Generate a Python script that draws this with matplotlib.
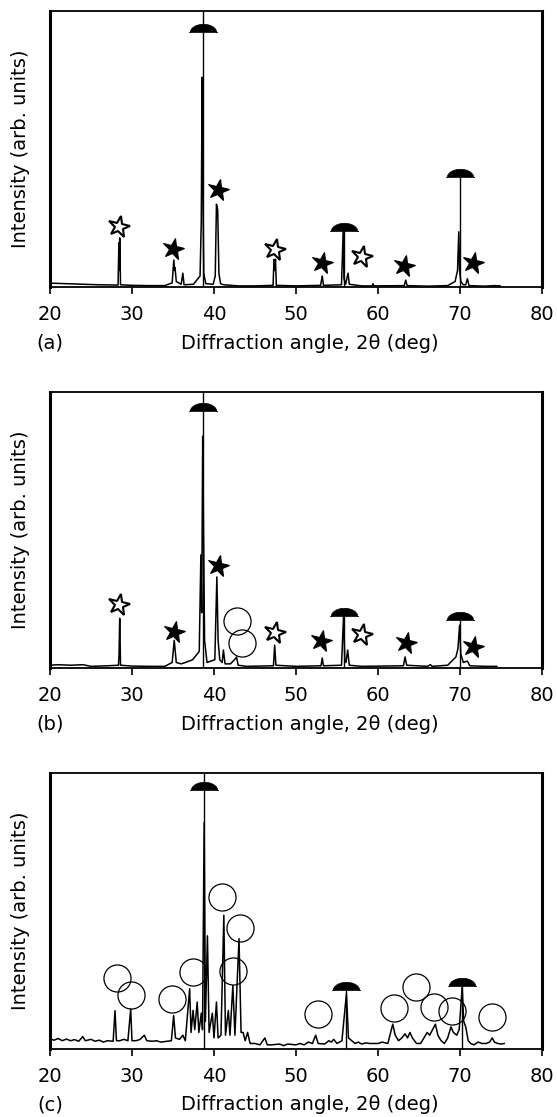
import numpy as np
import matplotlib
matplotlib.use("Agg")
import matplotlib.pyplot as plt
from matplotlib.path import Path
from matplotlib.markers import MarkerStyle
from matplotlib.transforms import Affine2D

plt.rcParams['font.family'] = ['DejaVu Sans']

W, H = 557, 1117

# ---------------- data: panel (a) ----------------
a_x = [20, 22, 24, 26, 28.3, 28.4, 28.45, 28.5, 28.6, 30, 32, 34, 34.9, 35.1, 35.2, 35.25, 35.4,
       36.0, 36.2, 36.35, 37.5, 38.3, 38.45, 38.55, 38.62, 38.75, 39.0, 39.9, 40.15, 40.3, 40.45,
       40.6, 40.8, 41.2, 43, 45, 47.2, 47.32, 47.4, 47.5, 47.6, 50, 53.0, 53.2, 53.35, 55.55, 55.75,
       55.85, 56.05, 56.35, 56.5, 58, 59.3, 59.4, 59.5, 63.2, 63.38, 63.55, 66, 68.5, 69.4, 69.7,
       69.85, 69.95, 70.1, 70.4, 70.7, 70.9, 71.1, 73, 74.2, 74.9]
a_y = [0.014, 0.012, 0.010, 0.008, 0.007, 0.16, 0.06, 0.178, 0.008, 0.006, 0.005, 0.005, 0.015,
       0.098, 0.06, 0.07, 0.02, 0.01, 0.05, 0.008, 0.01, 0.04, 0.24, 0.76, 0.45, 0.05, 0.012, 0.01,
       0.04, 0.30, 0.28, 0.05, 0.012, 0.008, 0.004, 0.004, 0.006, 0.10, 0.06, 0.10, 0.006, 0.004,
       0.006, 0.04, 0.006, 0.008, 0.204, 0.03, 0.01, 0.05, 0.01, 0.004, 0.004, 0.012, 0.004, 0.005,
       0.025, 0.005, 0.003, 0.005, 0.02, 0.06, 0.20, 0.06, 0.02, 0.008, 0.008, 0.03, 0.005, 0.003,
       0.005, 0.004]
a_fstar_x = [34.95, 40.45, 53.2, 63.2, 71.55]
a_fstar_y = [0.137, 0.351, 0.086, 0.076, 0.086]
a_ostar_x = [28.45, 47.5, 58.0]
a_ostar_y = [0.217, 0.134, 0.110]
a_dome_x = [38.6, 55.8, 70.05]
a_dome_y = [0.924, 0.204, 0.400]
a_stem_top = [1.0, 0.204, 0.400]
a_circ_x, a_circ_y = [], []

# ---------------- data: panel (b) ----------------
b_x = [20, 21, 22.5, 24, 25, 27, 28.35, 28.42, 28.5, 28.6, 30, 32, 34, 34.9, 35.15, 35.4, 36,
       36.5, 37.4, 38.2, 38.4, 38.5, 38.62, 38.72, 38.85, 39.15, 40.1, 40.35, 40.5, 40.7, 41.0,
       41.15, 41.35, 42.0, 42.5, 42.75, 42.95, 44, 47.25, 47.4, 47.55, 50, 53.05, 53.2, 53.35,
       55.55, 55.8, 55.95, 56.1, 56.3, 56.5, 58, 63.1, 63.3, 63.5, 66, 66.4, 66.6, 68.5, 69.5, 69.75,
       69.95, 70.1, 70.4, 70.9, 71.2, 73, 74.5]
b_y = [0.010, 0.012, 0.010, 0.012, 0.006, 0.008, 0.010, 0.05, 0.18, 0.010, 0.007, 0.006, 0.006,
       0.02, 0.10, 0.02, 0.015, 0.02, 0.03, 0.06, 0.41, 0.20, 0.84, 0.50, 0.10, 0.02, 0.03, 0.33,
       0.10, 0.03, 0.02, 0.065, 0.015, 0.015, 0.03, 0.04, 0.01, 0.006, 0.008, 0.083, 0.010, 0.006,
       0.008, 0.036, 0.008, 0.010, 0.19, 0.03, 0.02, 0.065, 0.010, 0.006, 0.008, 0.04, 0.010, 0.006,
       0.012, 0.006, 0.010, 0.04, 0.07, 0.155, 0.05, 0.02, 0.025, 0.008, 0.006, 0.006]
b_fstar_x = [35.16, 40.5, 53.06, 63.46, 71.56]
b_fstar_y = [0.130, 0.370, 0.098, 0.092, 0.077]
b_ostar_x = [28.45, 47.5, 58.1]
b_ostar_y = [0.230, 0.126, 0.120]
b_dome_x = [38.6, 55.85, 70.0]
b_dome_y = [0.930, 0.190, 0.174]
b_stem_top = [1.0, 0.190, 0.174]
b_circ_x = [42.75, 43.4]
b_circ_y = [0.170, 0.092]

# ---------------- data: panel (c) ----------------
c_x = [20, 20.5, 21, 21.5, 22, 22.5, 23, 23.5, 24, 24.3, 25, 25.5, 26, 26.5, 27, 27.7, 27.93,
       28.1, 28.5, 29, 29.5, 29.84, 30.0, 30.5, 31.0, 31.5, 31.8, 32.5, 33, 33.5, 34, 34.8, 35.08,
       35.3, 35.8, 36.2, 36.5, 37.03, 37.2, 37.45, 37.65, 37.95, 38.15, 38.45, 38.6, 38.8, 38.95,
       39.2, 39.4, 39.8, 40.0, 40.3, 40.5, 40.85, 41.2, 41.4, 41.75, 41.95, 42.3, 42.55, 43.05,
       43.3, 43.55, 43.8, 44.1, 44.4, 45, 45.6, 46.2, 46.5, 47, 48, 48.5, 49, 50, 50.5, 51, 51.5,
       52, 52.4, 52.7, 53.5, 54.0, 54.3, 54.6, 55.0, 55.6, 56.15, 56.4, 56.8, 57.2, 57.6, 58, 58.5,
       59, 60, 60.5, 61.2, 61.8, 62.1, 62.5, 62.9, 63.3, 63.6, 63.9, 64.2, 64.7, 65.2, 65.6, 66.0,
       66.3, 67.0, 67.3, 67.7, 68.1, 68.5, 68.9, 69.2, 69.6, 69.9, 70.26, 70.45, 70.7, 71.0, 71.3,
       71.7, 72.2, 72.7, 73.2, 73.6, 73.94, 74.2, 74.6, 75.0, 75.4]
c_y = [0.036, 0.032, 0.038, 0.030, 0.036, 0.030, 0.034, 0.028, 0.045, 0.030, 0.035, 0.028, 0.032,
       0.025, 0.030, 0.028, 0.139, 0.030, 0.030, 0.035, 0.030, 0.145, 0.030, 0.030, 0.035, 0.050,
       0.030, 0.028, 0.030, 0.025, 0.027, 0.030, 0.121, 0.040, 0.035, 0.050, 0.030, 0.218, 0.060,
       0.140, 0.070, 0.170, 0.060, 0.130, 0.070, 0.820, 0.100, 0.410, 0.060, 0.130, 0.040, 0.170,
       0.040, 0.050, 0.485, 0.050, 0.140, 0.050, 0.230, 0.050, 0.400, 0.060, 0.060, 0.030, 0.060,
       0.020, 0.020, 0.015, 0.040, 0.015, 0.015, 0.018, 0.012, 0.018, 0.015, 0.020, 0.015, 0.025,
       0.020, 0.050, 0.020, 0.018, 0.030, 0.025, 0.035, 0.020, 0.030, 0.200, 0.040, 0.030, 0.020,
       0.025, 0.018, 0.022, 0.020, 0.020, 0.025, 0.020, 0.090, 0.050, 0.030, 0.040, 0.055, 0.040,
       0.060, 0.040, 0.020, 0.020, 0.040, 0.060, 0.050, 0.090, 0.050, 0.030, 0.020, 0.040, 0.080,
       0.060, 0.050, 0.070, 0.224, 0.100, 0.080, 0.030, 0.020, 0.015, 0.025, 0.020, 0.020, 0.025,
       0.040, 0.025, 0.020, 0.018, 0.020]
c_fstar_x, c_fstar_y = [], []
c_ostar_x, c_ostar_y = [], []
c_dome_x = [38.8, 56.15, 70.3]
c_dome_y = [0.937, 0.215, 0.230]
c_stem_top = [1.0, 0.215, 0.230]
c_circ_x = [28.15, 29.84, 34.9, 37.46, 41.01, 42.31, 43.18, 52.7, 61.94, 64.63, 66.79, 69.05, 73.94]
c_circ_y = [0.258, 0.194, 0.182, 0.279, 0.551, 0.282, 0.440, 0.127, 0.149, 0.224, 0.151, 0.136, 0.115]

panel_letters = ['(a)', '(b)', '(c)']
xticks = [20, 30, 40, 50, 60, 70, 80]
xlabel = 'Diffraction angle, 2\u03b8 (deg)'
ylabel = 'Intensity (arb. units)'

panels = [
    (a_x, a_y, a_fstar_x, a_fstar_y, a_ostar_x, a_ostar_y, a_dome_x, a_dome_y, a_stem_top, a_circ_x, a_circ_y),
    (b_x, b_y, b_fstar_x, b_fstar_y, b_ostar_x, b_ostar_y, b_dome_x, b_dome_y, b_stem_top, b_circ_x, b_circ_y),
    (c_x, c_y, c_fstar_x, c_fstar_y, c_ostar_x, c_ostar_y, c_dome_x, c_dome_y, c_stem_top, c_circ_x, c_circ_y),
]

# ---------------- marker shapes ----------------
t = np.linspace(0, np.pi, 40)
dome_verts = np.column_stack([np.cos(t), 0.62 * np.sin(t)])
dome_verts = np.vstack([[1.05, 0.0], dome_verts, [-1.05, 0.0], [1.05, 0.0]])
dome_path = Path(dome_verts, closed=True)
dome_marker = MarkerStyle(dome_path)
star_marker = MarkerStyle('*', transform=Affine2D().rotate_deg(-12))

fig = plt.figure(figsize=(W / 100, H / 100), dpi=100)

axes_px = [(11, 287), (392, 668), (773, 1049)]
left_px, right_px = 50, 542

for i, (top, bot) in enumerate(axes_px):
    ax = fig.add_axes([left_px / W, 1 - bot / H, (right_px - left_px) / W, (bot - top) / H])
    (tx, ty, fsx, fsy, osx, osy, dx, dy, stop, cx, cy) = panels[i]
    ax.plot(tx, ty, color='black', lw=1.1, zorder=2)
    for xs, yt in zip(dx, stop):
        ax.plot([xs, xs], [0, yt], color='black', lw=1.0, zorder=2)
    ax.plot(dx, dy, linestyle='none', marker=dome_marker, ms=20,
            mfc='black', mec='black', mew=0.5, zorder=4)
    if fsx:
        ax.plot(fsx, fsy, linestyle='none', marker=star_marker, ms=16,
                mfc='black', mec='black', mew=0.8, zorder=4)
    if osx:
        ax.plot(osx, osy, linestyle='none', marker=star_marker, ms=16,
                mfc='white', mec='black', mew=1.5, zorder=4)
    if cx:
        ax.plot(cx, cy, linestyle='none', marker='o', ms=19.5,
                mfc='none', mec='black', mew=0.9, zorder=4)

    ax.set_xlim(20, 80)
    ax.set_ylim(0, 1)
    ax.set_yticks([])
    ax.set_xticks(xticks)
    ax.set_xticklabels([str(v) for v in xticks])
    ax.tick_params(axis='x', direction='out', length=5, width=1.2, pad=8,
                   labelsize=14, colors='black')
    for side in ['left', 'right']:
        ax.spines[side].set_linewidth(2.2)
    for side in ['top', 'bottom']:
        ax.spines[side].set_linewidth(1.3)

    ycen = 1 - (top + bot) / 2 / H
    fig.text(21 / W, ycen, ylabel, rotation=90, ha='center', va='center', fontsize=14)
    ylab = 1 - (bot + 56) / H
    fig.text(50 / W, ylab, panel_letters[i], ha='center', va='center', fontsize=14)
    fig.text(310 / W, ylab, xlabel, ha='center', va='center', fontsize=14)

fig.savefig('out.png', dpi=100)
